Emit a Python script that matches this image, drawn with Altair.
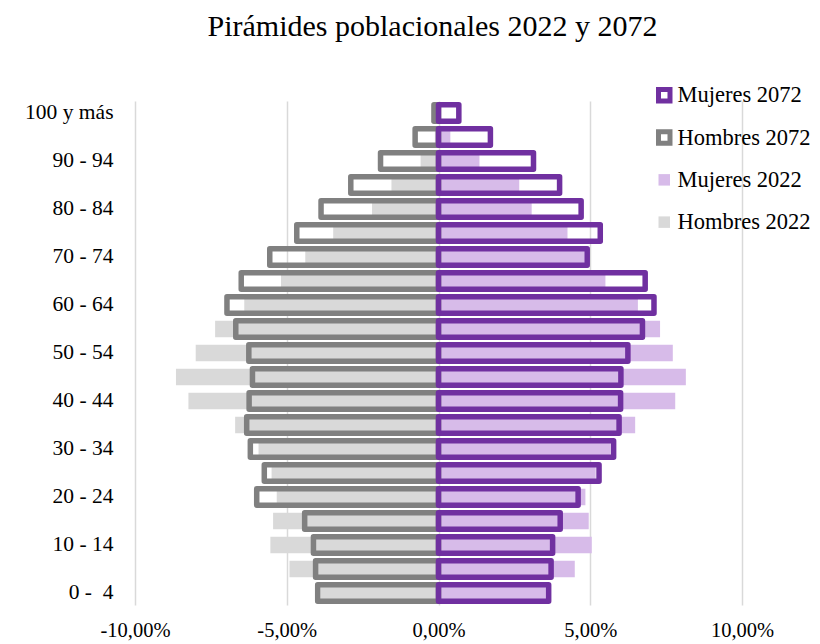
import altair as alt
import pandas as pd

# Age groups, bottom (0-4) to top (100 y más)
ages = ["0 -\u00a0\u00a04", "5 - 9", "10 - 14", "15 - 19", "20 - 24", "25 - 29",
        "30 - 34", "35 - 39", "40 - 44", "45 - 49", "50 - 54", "55 - 59",
        "60 - 64", "65 - 69", "70 - 74", "75 - 79", "80 - 84", "85 - 89",
        "90 - 94", "95 - 99", "100 y más\u00a0"]

# Percentages of total population (men shown to the left)
hombres_2022 = [3.88, 4.91, 5.54, 5.45, 5.33, 5.50, 5.93, 6.70, 8.24, 8.65, 8.00,
                7.36, 6.40, 5.19, 4.39, 3.47, 2.19, 1.55, 0.59, 0.12, 0.03]
mujeres_2022 = [3.56, 4.49, 5.05, 4.95, 4.84, 5.18, 5.67, 6.48, 7.80, 8.15, 7.72,
                7.30, 6.57, 5.50, 4.82, 4.25, 3.07, 2.66, 1.35, 0.39, 0.05]
hombres_2072 = [3.98, 4.05, 4.12, 4.41, 5.99, 5.74, 6.20, 6.32, 6.24, 6.13, 6.25,
                6.68, 6.97, 6.50, 5.56, 4.67, 3.87, 2.89, 1.91, 0.77, 0.15]
mujeres_2072 = [3.63, 3.71, 3.76, 4.01, 4.60, 5.29, 5.77, 5.95, 6.00, 6.01, 6.24,
                6.72, 7.10, 6.81, 4.90, 5.33, 4.70, 3.99, 3.13, 1.71, 0.67]

series = ["Mujeres 2072", "Hombres 2072", "Mujeres 2022", "Hombres 2022"]
fill_colors = ["transparent", "transparent", "#d7bbe9", "#d9d9d9"]
stroke_colors = ["#7030a0", "#808080", "transparent", "transparent"]

rows = []
for i, a in enumerate(ages):
    rows.append({"edad": a, "serie": "Hombres 2022", "valor": -hombres_2022[i]})
    rows.append({"edad": a, "serie": "Mujeres 2022", "valor": mujeres_2022[i]})
for i, a in enumerate(ages):
    rows.append({"edad": a, "serie": "Hombres 2072", "valor": -hombres_2072[i]})
    rows.append({"edad": a, "serie": "Mujeres 2072", "valor": mujeres_2072[i]})
df = pd.DataFrame(rows)

labeled = ages[::2]
FONT = "Liberation Serif"

legend_def = alt.Legend(
    title=None, orient="none", legendX=518, legendY=-17, padding=0,
    symbolType="square", symbolSize=132, symbolStrokeWidth=5,
    labelFont=FONT, labelFontSize=22.5, labelColor="black", labelOffset=2,
    rowPadding=10.3, labelLimit=300,
)

chart = alt.Chart(df).mark_bar(strokeWidth=5.5, strokeJoin="round").encode(
    x=alt.X("valor:Q", stack=None,
            scale=alt.Scale(domain=[-10, 10], nice=False, zero=False),
            axis=alt.Axis(values=[-10, -5, 0, 5, 10], title=None, domain=False,
                          ticks=False, grid=True, gridColor="#d9d9d9", gridWidth=1.5,
                          labelFlush=False,
                          labelExpr="(datum.value < 0 ? '-' : '') + replace(format(abs(datum.value), '.2f'), '.', ',') + '%'",
                          labelFont=FONT, labelFontSize=20.5, labelColor="black",
                          labelPadding=15)),
    y=alt.Y("edad:N", sort=list(reversed(ages)),
            scale=alt.Scale(paddingInner=0.31, paddingOuter=0.155),
            axis=alt.Axis(values=labeled, title=None, domain=False, ticks=False,
                          grid=False, labelFont=FONT, labelFontSize=21.5,
                          labelColor="black", labelPadding=22)),
    fill=alt.Fill("serie:N", scale=alt.Scale(domain=series, range=fill_colors),
                  legend=legend_def),
    stroke=alt.Stroke("serie:N", scale=alt.Scale(domain=series, range=stroke_colors),
                      legend=legend_def),
).properties(
    width=607, height=504,
    title=alt.TitleParams("Pirámides poblacionales 2022 y 2072", font=FONT,
                          fontSize=30, fontWeight="normal", color="black",
                          anchor="middle", frame="group", dx=-6, offset=42),
    padding={"left": 135, "top": 101, "right": 78, "bottom": 39},
    autosize=alt.AutoSizeParams(type="none"),
).configure_view(stroke=None)

chart.save("out.html", embed_options={"renderer": "svg", "actions": False})
